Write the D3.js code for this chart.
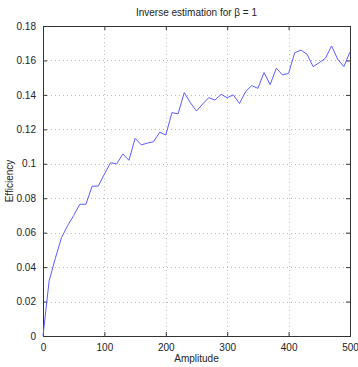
<!DOCTYPE html>
<html>
<head>
<meta charset="utf-8">
<script src="https://cdn.jsdelivr.net/npm/d3@7"></script>
<style>
  body { margin: 0; background: #fff; }
  svg text { font-family: "Liberation Sans", Arial, sans-serif; fill: #222; }
</style>
</head>
<body>
<svg class="chart"></svg>
<script>
var amplitude = d3.range(0, 501, 10);
var efficiency = [
  0, 0.032, 0.045, 0.057, 0.064, 0.070, 0.0765, 0.0765, 0.087, 0.087,
  0.094, 0.1006, 0.0999, 0.1057, 0.102, 0.1148, 0.111, 0.112, 0.1128, 0.1183,
  0.1167, 0.1297, 0.129, 0.1413, 0.1355, 0.1306, 0.1347, 0.1384, 0.137, 0.1403,
  0.1384, 0.14, 0.135, 0.1419, 0.1454, 0.1438, 0.153, 0.146, 0.1555, 0.1516,
  0.1525, 0.1645, 0.166, 0.1636, 0.1564, 0.1587, 0.1613, 0.1684, 0.1607, 0.1564,
  0.165
];
var xTicks = [0, 100, 200, 300, 400, 500];
var yTicks = [0, 0.02, 0.04, 0.06, 0.08, 0.1, 0.12, 0.14, 0.16, 0.18];

(function () {
  var margin = {top: 26, right: 8, bottom: 31, left: 43};
  var width = 358 - margin.left - margin.right;
  var height = 367 - margin.top - margin.bottom;

  var svg = d3.select(".chart")
      .attr("width", 358)
      .attr("height", 367);
  var vis = svg.append("g")
      .attr("transform", "translate(" + margin.left + "," + margin.top + ")");

  var xscale = d3.scaleLinear().domain([0, 500]).range([0, width]);
  var yscale = d3.scaleLinear().domain([0, 0.18]).range([height, 0]);

  // dotted grid
  vis.selectAll(".gx").data(xTicks.slice(1, -1)).enter().append("line")
    .attr("x1", function(d) { return Math.round(xscale(d)) + 0.5; })
    .attr("x2", function(d) { return Math.round(xscale(d)) + 0.5; })
    .attr("y1", 0).attr("y2", height)
    .style("stroke", "#bbb").style("stroke-dasharray", "1,3");
  vis.selectAll(".gy").data(yTicks.slice(1, -1)).enter().append("line")
    .attr("y1", function(d) { return Math.round(yscale(d)) + 0.5; })
    .attr("y2", function(d) { return Math.round(yscale(d)) + 0.5; })
    .attr("x1", 0).attr("x2", width)
    .style("stroke", "#bbb").style("stroke-dasharray", "1,3");

  var xaxis = d3.axisBottom(xscale).tickValues(xTicks).tickSize(-4).tickPadding(8);
  var gx = vis.append("g")
    .attr("transform", "translate(0," + height + ")")
    .call(xaxis);
  var yaxis = d3.axisLeft(yscale).tickValues(yTicks).tickSize(-4).tickPadding(7)
    .tickFormat(function(d) { return d === 0 ? "0" : d3.format(".2f")(d).replace(/0$/, "").replace(/^0\.1$/, "0.1"); });
  var gy = vis.append("g").call(yaxis);

  // mirror ticks on top and right
  vis.append("g").call(d3.axisTop(xscale).tickValues(xTicks).tickSize(-4).tickFormat(""));
  vis.append("g").attr("transform", "translate(" + width + ",0)")
    .call(d3.axisRight(yscale).tickValues(yTicks).tickSize(-4).tickFormat(""));

  vis.selectAll(".domain").style("stroke", "#333");
  vis.selectAll(".tick line").style("stroke", "#333");
  vis.selectAll(".tick text").style("font-size", "10px").style("fill", "#222")
    .style("font-family", "Liberation Sans, Arial, sans-serif");

  var line = d3.line()
    .x(function(d, i) { return xscale(amplitude[i]); })
    .y(function(d) { return yscale(d); });
  vis.append("path")
    .datum(efficiency)
    .attr("d", line)
    .style("fill", "none")
    .style("stroke", "#5c5cff")
    .style("stroke-width", 1);

  svg.append("text")
    .attr("x", margin.left + width / 2).attr("y", 16)
    .attr("text-anchor", "middle").style("font-size", "10px")
    .text("Inverse estimation for \u03b2 = 1");
  svg.append("text")
    .attr("x", margin.left + width / 2).attr("y", 362)
    .attr("text-anchor", "middle").style("font-size", "10px")
    .text("Amplitude");
  svg.append("text")
    .attr("transform", "translate(13," + (margin.top + height / 2) + ") rotate(-90)")
    .attr("text-anchor", "middle").style("font-size", "10px")
    .text("Efficiency");
})();
</script>
</body>
</html>
